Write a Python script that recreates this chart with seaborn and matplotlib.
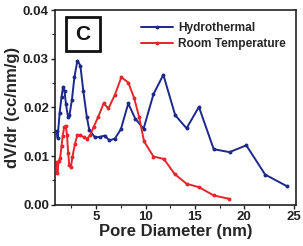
import matplotlib
matplotlib.use("Agg")
import matplotlib.pyplot as plt
import seaborn as sns
import pandas as pd
from matplotlib.patches import Rectangle
from matplotlib.ticker import MultipleLocator

# pore size distribution
hydro_x = [1.0, 1.1, 1.3, 1.5, 1.65, 1.8, 1.95, 2.15, 2.3, 2.55, 2.8, 3.1, 3.4,
           3.7, 4.05, 4.3, 4.85, 5.35, 5.85, 6.35, 6.9, 7.5, 8.25, 8.95, 9.8,
           10.8, 11.8, 13.0, 14.15, 15.4, 16.9, 18.5, 20.2, 22.1, 24.3]
hydro_y = [0.0152, 0.0137, 0.0188, 0.0222, 0.0242, 0.0233, 0.0206, 0.0181,
           0.0184, 0.0216, 0.0262, 0.0296, 0.0286, 0.0234, 0.0181, 0.0154,
           0.0139, 0.0139, 0.0142, 0.0132, 0.0136, 0.0155, 0.0208, 0.0177,
           0.0156, 0.0227, 0.0267, 0.0184, 0.0157, 0.0201, 0.0114, 0.0108,
           0.0122, 0.0062, 0.0038]

room_x = [1.0, 1.08, 1.2, 1.35, 1.5, 1.62, 1.77, 1.93, 2.05, 2.17, 2.28, 2.45,
          2.6, 2.85, 3.1, 3.4, 3.72, 4.05, 4.4, 4.75, 5.2, 5.75, 6.25, 6.9,
          7.55, 8.25, 8.85, 9.35, 9.85, 10.8, 11.85, 12.95, 14.15, 15.4, 16.9,
          18.45]
room_y = [0.0088, 0.0066, 0.0089, 0.0095, 0.0121, 0.0142, 0.0160, 0.0162,
          0.0143, 0.0106, 0.0082, 0.0078, 0.0098, 0.0125, 0.0143, 0.0143,
          0.0139, 0.0135, 0.0143, 0.0160, 0.0180, 0.0208, 0.0198, 0.0226,
          0.0262, 0.0251, 0.0219, 0.0180, 0.0130, 0.0099, 0.0094, 0.0063,
          0.0043, 0.0036, 0.0019, 0.0012]

series_names = ["Hydrothermal", "Room Temperature"]
colors = ["#1c288c", "#e8252b"]

df = pd.concat([
    pd.DataFrame({"d": hydro_x, "v": hydro_y, "sample": series_names[0]}),
    pd.DataFrame({"d": room_x, "v": room_y, "sample": series_names[1]}),
])

sns.set_theme(style="ticks")
plt.rcParams["font.family"] = ["Liberation Sans", "DejaVu Sans"]
plt.rcParams["font.weight"] = "bold"

fig = plt.figure(figsize=(3.03, 2.46), dpi=100)
ax = fig.add_axes([0.182, 0.168, 0.794, 0.791])

sns.lineplot(data=df, x="d", y="v", hue="sample", palette=colors, sort=False,
             marker="o", markersize=2.8, markeredgewidth=0, linewidth=1.4,
             ax=ax, legend=True)

ax.set_xlim(0.85, 25.2)
ax.set_ylim(0, 0.04)
ax.xaxis.set_major_locator(MultipleLocator(5))
ax.xaxis.set_minor_locator(MultipleLocator(2.5))
ax.yaxis.set_major_locator(MultipleLocator(0.01))
ax.yaxis.set_minor_locator(MultipleLocator(0.005))
ax.yaxis.set_major_formatter(matplotlib.ticker.FormatStrFormatter("%.2f"))
ax.tick_params(which="major", direction="out", length=3, width=1, labelsize=9.5,
               pad=1.5, colors="#222222")
ax.tick_params(which="minor", direction="out", length=2, width=0.8)
for lab in ax.get_xticklabels() + ax.get_yticklabels():
    lab.set_fontweight("bold")

ax.set_xlabel("Pore Diameter (nm)", fontsize=12, fontweight="bold", labelpad=1)
ax.set_ylabel("dV/dr (cc/nm/g)", fontsize=12, fontweight="bold", labelpad=2)

for sp in ax.spines.values():
    sp.set_linewidth(1.2)
    sp.set_color("#222222")

ax.legend(frameon=False, loc="upper right", bbox_to_anchor=(1.0, 0.99),
          prop={"size": 8.6, "weight": "bold"}, handlelength=2.7,
          handletextpad=0.4, borderpad=0.35, labelspacing=0.35)

ax.add_patch(Rectangle((0.045, 0.79), 0.14, 0.175, transform=ax.transAxes,
                       fill=False, edgecolor="#111111", linewidth=2))
ax.text(0.115, 0.874, "C", transform=ax.transAxes, ha="center", va="center",
        fontsize=15, fontweight="bold", color="#111111")

fig.savefig("out.png", dpi=100)
